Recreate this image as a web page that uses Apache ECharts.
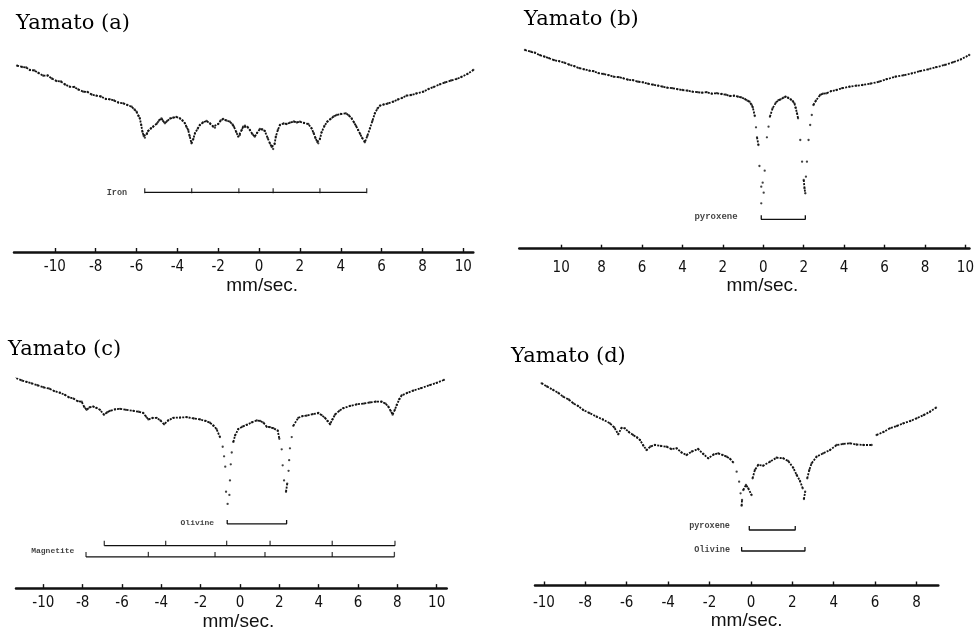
<!DOCTYPE html>
<html><head><meta charset="utf-8">
<script src="https://cdn.jsdelivr.net/npm/echarts@6/dist/echarts.min.js"></script>
<style>html,body{margin:0;padding:0;background:#fff}#c{width:977px;height:632px}</style>
</head><body><div id="c"></div>
<script>
// ---- tick labels (mm/sec) ----
const ticksFull = [-10,-8,-6,-4,-2,0,2,4,6,8,10];
const ticksD = [-10,-8,-6,-4,-2,0,2,4,6,8];

// ---- spectra: [velocity mm/s, relative transmission (arb.)] ----
const specA = [[-11.85,186.3],[-11.6,185.0],[-11.4,184.5],[-11.22,182.0],[-11.0,181.5],[-10.8,179.0],[-10.57,176.3],[-10.35,176.5],[-10.15,173.5],[-9.92,171.0],[-9.7,170.5],[-9.5,167.5],[-9.27,165.3],[-9.05,165.0],[-8.85,162.5],[-8.61,160.3],[-8.4,160.0],[-8.2,157.5],[-7.96,156.3],[-7.75,155.5],[-7.5,153.0],[-7.31,152.7],[-7.1,151.5],[-6.9,149.5],[-6.65,148.7],[-6.45,147.0],[-6.24,145.3],[-6.1,142.5],[-6.0,140.3],[-5.9,136.0],[-5.84,133.7],[-5.77,127.0],[-5.71,120.3],[-5.65,116.0],[-5.59,114.3],[-5.5,118.0],[-5.43,121.0],[-5.3,123.5],[-5.19,125.3],[-5.0,128.5],[-4.9,131.5],[-4.78,133.7],[-4.7,131.0],[-4.61,128.7],[-4.5,131.0],[-4.35,133.5],[-4.21,134.3],[-4.05,135.0],[-3.88,133.7],[-3.75,131.5],[-3.63,128.7],[-3.55,125.0],[-3.47,122.0],[-3.4,116.0],[-3.31,108.7],[-3.22,113.0],[-3.14,118.7],[-3.0,123.5],[-2.9,127.0],[-2.75,129.5],[-2.57,131.0],[-2.4,128.5],[-2.25,125.5],[-2.16,124.3],[-2.0,128.0],[-1.88,131.5],[-1.76,133.0],[-1.6,131.5],[-1.43,130.3],[-1.3,127.5],[-1.23,125.3],[-1.12,120.0],[-1.02,115.3],[-0.94,117.0],[-0.85,122.0],[-0.78,125.3],[-0.69,126.3],[-0.57,125.0],[-0.45,122.0],[-0.33,118.0],[-0.21,115.3],[-0.1,119.0],[0.04,123.0],[0.16,122.5],[0.28,121.0],[0.42,114.0],[0.53,108.7],[0.62,105.0],[0.69,103.0],[0.76,108.0],[0.82,115.3],[0.92,122.0],[1.02,127.0],[1.2,128.5],[1.35,128.0],[1.51,129.3],[1.7,130.5],[1.85,129.5],[2.0,130.3],[2.2,129.0],[2.41,128.0],[2.57,123.7],[2.67,119.0],[2.76,114.0],[2.85,110.0],[2.9,108.7],[2.98,113.0],[3.06,119.7],[3.2,126.0],[3.34,130.3],[3.5,133.0],[3.65,135.5],[3.8,137.0],[4.0,138.0],[4.25,138.7],[4.4,136.5],[4.53,133.7],[4.65,129.5],[4.75,126.0],[4.85,122.0],[4.95,118.0],[5.05,114.0],[5.18,109.7],[5.3,116.0],[5.43,123.7],[5.55,131.0],[5.67,138.7],[5.8,143.5],[5.92,146.3],[6.1,147.5],[6.3,148.5],[6.57,150.3],[6.8,152.5],[7.0,154.0],[7.22,156.3],[7.45,157.0],[7.7,158.5],[8.04,160.3],[8.3,163.0],[8.55,165.0],[8.85,167.7],[9.1,169.5],[9.4,171.5],[9.67,173.0],[9.9,175.0],[10.2,178.0],[10.49,182.0]];

const specB = [[-11.79,198.7],[-11.5,197.0],[-11.3,196.0],[-11.05,193.5],[-10.82,192.0],[-10.6,190.5],[-10.35,188.5],[-10.1,187.5],[-9.84,186.0],[-9.6,184.0],[-9.35,182.5],[-9.1,180.5],[-8.87,179.4],[-8.6,178.0],[-8.4,177.5],[-8.15,175.5],[-7.9,174.7],[-7.65,173.5],[-7.4,172.0],[-7.15,171.5],[-6.92,170.4],[-6.7,169.0],[-6.45,168.5],[-6.2,167.0],[-5.95,166.4],[-5.7,165.0],[-5.45,164.0],[-5.2,163.0],[-4.98,162.0],[-4.75,161.0],[-4.5,160.5],[-4.25,159.5],[-4.0,158.7],[-3.75,158.0],[-3.5,157.0],[-3.25,156.5],[-3.03,156.0],[-2.8,156.5],[-2.55,155.0],[-2.3,155.5],[-2.06,154.7],[-1.85,154.0],[-1.65,152.7],[-1.45,153.0],[-1.25,152.0],[-1.09,151.4],[-0.9,149.5],[-0.78,148.0],[-0.68,147.0],[-0.58,144.0],[-0.52,141.4],[-0.42,132.7],[-0.36,121.4],[-0.31,111.4],[-0.24,103.7],[-0.19,82.7],[-0.1,62.0],[-0.1,45.4],[-0.03,66.0],[0.02,56.0],[0.07,78.0],[0.18,111.4],[0.26,122.0],[0.33,132.0],[0.46,140.4],[0.62,146.0],[0.75,148.5],[0.86,149.4],[1.0,151.0],[1.1,152.0],[1.22,151.0],[1.35,149.4],[1.46,147.5],[1.54,145.4],[1.6,141.0],[1.67,135.4],[1.72,130.4],[1.83,108.7],[1.92,87.0],[2.0,68.7],[2.04,60.4],[2.08,55.4],[2.11,72.0],[2.16,87.0],[2.24,108.7],[2.32,123.7],[2.4,133.7],[2.48,143.7],[2.6,148.0],[2.81,153.7],[2.95,155.0],[3.13,155.4],[3.35,157.5],[3.62,158.7],[3.9,160.5],[4.27,162.0],[4.6,163.0],[4.91,163.7],[5.3,165.0],[5.73,167.0],[6.1,169.5],[6.54,172.0],[6.95,173.5],[7.35,175.4],[7.75,177.5],[8.16,179.4],[8.55,181.5],[8.97,183.7],[9.4,186.5],[9.78,189.4],[10.19,193.7]];

const specC = [[-11.69,219.4],[-11.4,218.0],[-11.1,215.5],[-10.85,214.0],[-10.6,212.5],[-10.3,210.5],[-10.0,208.4],[-9.7,207.0],[-9.45,204.5],[-9.15,202.7],[-8.9,200.5],[-8.7,198.0],[-8.47,196.7],[-8.25,194.0],[-8.05,193.4],[-7.92,188.0],[-7.8,185.0],[-7.65,187.5],[-7.46,188.4],[-7.3,187.0],[-7.12,185.0],[-6.92,180.0],[-6.75,182.5],[-6.61,184.0],[-6.35,185.5],[-6.1,186.0],[-5.8,185.0],[-5.42,184.0],[-5.15,183.0],[-4.92,181.7],[-4.78,178.0],[-4.66,175.0],[-4.45,176.5],[-4.24,176.7],[-4.05,174.0],[-3.86,170.0],[-3.65,174.0],[-3.39,176.7],[-3.05,177.0],[-2.71,177.4],[-2.35,176.0],[-2.03,175.0],[-1.75,173.5],[-1.53,171.7],[-1.35,168.5],[-1.19,165.0],[-1.02,156.7],[-0.88,146.7],[-0.81,136.7],[-0.75,126.0],[-0.71,100.0],[-0.63,87.4],[-0.54,96.7],[-0.51,111.7],[-0.47,128.4],[-0.42,140.7],[-0.34,151.7],[-0.25,158.4],[-0.09,165.0],[0.12,167.5],[0.34,169.4],[0.6,172.0],[0.85,174.0],[1.02,173.5],[1.19,171.7],[1.36,167.4],[1.52,167.0],[1.69,166.0],[1.92,163.4],[2.0,155.0],[2.12,144.0],[2.17,127.4],[2.24,111.7],[2.34,100.0],[2.4,108.4],[2.47,121.7],[2.5,132.7],[2.54,145.0],[2.63,156.7],[2.71,168.4],[2.96,176.7],[3.18,178.5],[3.39,179.0],[3.7,180.5],[3.98,181.7],[4.15,179.5],[4.32,176.7],[4.45,173.5],[4.58,170.0],[4.7,175.0],[4.83,180.0],[5.05,184.0],[5.25,186.7],[5.6,189.0],[5.93,190.7],[6.3,191.5],[6.61,192.7],[6.9,193.5],[7.2,193.4],[7.4,191.5],[7.54,188.4],[7.66,184.0],[7.76,180.0],[7.87,185.0],[7.97,190.0],[8.1,196.0],[8.22,200.0],[8.5,202.5],[8.81,205.0],[9.2,207.5],[9.66,210.7],[10.0,213.0],[10.37,216.0]];

const specD = [[-10.11,202.2],[-9.85,199.0],[-9.55,195.5],[-9.3,192.5],[-9.07,188.8],[-8.8,186.0],[-8.58,182.2],[-8.35,179.5],[-8.1,175.5],[-7.8,172.5],[-7.45,168.8],[-7.15,166.0],[-6.81,162.2],[-6.6,158.0],[-6.41,151.2],[-6.25,157.5],[-6.09,157.2],[-5.9,153.5],[-5.69,150.5],[-5.5,148.0],[-5.36,145.5],[-5.2,140.0],[-5.04,135.5],[-4.85,139.0],[-4.64,140.5],[-4.35,139.5],[-4.07,138.8],[-3.85,136.5],[-3.59,137.2],[-3.35,133.0],[-3.11,130.5],[-2.85,134.0],[-2.55,136.5],[-2.3,131.5],[-2.06,127.2],[-1.8,131.0],[-1.58,132.2],[-1.37,130.5],[-1.17,128.8],[-1.0,126.5],[-0.86,123.2],[-0.69,113.8],[-0.57,103.8],[-0.5,92.2],[-0.45,79.8],[-0.43,85.5],[-0.37,95.5],[-0.24,100.5],[-0.13,97.2],[0.03,90.5],[0.08,107.2],[0.19,115.5],[0.35,120.5],[0.59,119.8],[0.92,123.8],[1.24,127.8],[1.56,127.2],[1.8,124.5],[2.04,117.8],[2.21,110.5],[2.37,104.5],[2.5,97.2],[2.56,86.5],[2.62,93.8],[2.72,107.2],[2.82,115.5],[2.93,122.2],[3.17,128.8],[3.49,132.2],[3.82,135.5],[4.14,140.5],[4.45,141.5],[4.78,142.2],[5.1,141.0],[5.43,140.5],[5.83,140.5],[6.07,150.5],[6.4,153.5],[6.71,157.2],[7.05,159.5],[7.36,162.2],[7.7,164.5],[8.0,167.2],[8.35,170.5],[8.65,173.8],[8.94,177.8]];

// ---- stick diagrams (line positions in mm/s) ----
const ironLines = [-5.6,-3.3,-0.99,0.69,2.98,5.27];
const ironLevel = 59.7;
const pyroxB = [-0.1,2.08]; const pyroxBLevel = 29.4;
const olivC = [-0.65,2.37]; const olivCLevel = 66.7;
const magnetiteA = [-6.9,-3.78,-0.68,1.53,4.69,7.88]; const magALevel = 44;
const magnetiteB = [-7.83,-4.66,-1.27,1.27,4.69,7.85]; const magBLevel = 32.4;
const pyroxD = [-0.08,2.14]; const pyroxDLevel = 55.5;
const olivD = [-0.45,2.61]; const olivDLevel = 34.5;

// label anchors [velocity, level, text]
const labelsA = [[-6.96,59,'Iron']];
const labelsB = [[-2.34,32,'pyroxene']];
const labelsC = [[-2.17,67.7,'Olivine'],[-9.52,38.4,'Magnetite']];
const labelsD = [[-2.0,59.5,'pyroxene'],[-1.87,35.5,'Olivine']];

const titles = ['Yamato (a)','Yamato (b)','Yamato (c)','Yamato (d)'];

const INK = '#111';
const chart = echarts.init(document.getElementById('c'), null, {renderer:'canvas'});

const grids = [
  {left:14, right:503.7, top:40, bottom:380},
  {left:519.3, right:0, top:30, bottom:383.3},
  {left:16, right:530.3, top:360, bottom:35.3},
  {left:535, right:38.7, top:365, bottom:46.5}
];
const xr = [[-12.0,10.49],[-12.07,10.2],[-11.39,10.51],[-10.43,9.05]];
const ymax = [212,218.7,236.7,220.5];
const labelMargin = [8,12,8,10];
const nameGap = [22,26,18,24];
const namePad = [37,36,14,20];
const tickSets = [ticksFull,ticksFull,ticksFull,ticksD];

const xAxes = grids.map((g,i)=>({
  type:'value', gridIndex:i, min:xr[i][0], max:xr[i][1], position:'bottom',
  splitLine:{show:false},
  axisLine:{show:true, lineStyle:{color:INK, width:2.5}},
  axisTick:{show:true, inside:true, length:4, customValues:tickSets[i], lineStyle:{color:INK, width:1.4}},
  axisLabel:{show:true, customValues:tickSets[i], margin:labelMargin[i], fontSize:15, color:INK,
    fontFamily:'"Liberation Sans Narrow","DejaVu Sans Condensed","Liberation Sans",sans-serif',
    formatter: i===1 ? (v)=>String(Math.abs(v)) : (v)=>String(v)},
  name:'mm/sec.', nameLocation:'middle', nameGap:nameGap[i],
  nameTextStyle:{fontSize:19, color:INK, fontFamily:'"Liberation Sans",sans-serif', padding:[0,0,0,namePad[i]]}
}));
const yAxes = grids.map((g,i)=>({type:'value', gridIndex:i, min:0, max:ymax[i], show:false}));

const series = [];
function spectrum(data, gi){
  series.push({type:'scatter', xAxisIndex:gi, yAxisIndex:gi, data:data, symbolSize:2.3,
    itemStyle:{color:INK}, silent:true});
  // connect neighbouring points of the continuum with a dotted trace
  let seg = [data[0]];
  const flush = ()=>{ if(seg.length>1) series.push({type:'line', xAxisIndex:gi, yAxisIndex:gi, data:seg,
      showSymbol:false, symbol:'none', lineStyle:{color:INK, width:1.8, type:[2,1.2]}, silent:true}); };
  for(let k=1;k<data.length;k++){
    if(Math.abs(data[k][1]-data[k-1][1])>9){ flush(); seg=[data[k]]; }
    else seg.push(data[k]);
  }
  flush();
}
function stickLine(pos, level, gi, up){
  series.push({type:'line', xAxisIndex:gi, yAxisIndex:gi, data:[[pos[0],level],[pos[pos.length-1],level]],
    symbol:'none', lineStyle:{color:INK, width:1.3}, silent:true});
  series.push({type:'scatter', xAxisIndex:gi, yAxisIndex:gi, data:pos.map(p=>[p,level]),
    symbol:'rect', symbolSize:[1.3,5], symbolOffset:[0, up?-2.5:-1.5], itemStyle:{color:INK}, silent:true});
}
function bracket(pos, level, gi){
  series.push({type:'line', xAxisIndex:gi, yAxisIndex:gi,
    data:[[pos[0],level+4],[pos[0],level],[pos[1],level],[pos[1],level+4]],
    symbol:'none', lineStyle:{color:INK, width:1.3}, silent:true});
}
function labels(list, gi, size){
  series.push({type:'scatter', xAxisIndex:gi, yAxisIndex:gi, data:list.map(l=>({value:[l[0],l[1]], name:l[2]})),
    symbolSize:1, itemStyle:{color:'rgba(0,0,0,0)'}, silent:true,
    label:{show:true, position:'inside', formatter:(p)=>p.name, color:INK, fontSize:size,
      fontWeight:'bold', fontFamily:'"Liberation Mono","DejaVu Sans Mono",monospace'}});
}

spectrum(specA,0); stickLine(ironLines, ironLevel, 0, false); labels(labelsA,0,8.5);
spectrum(specB,1); bracket(pyroxB, pyroxBLevel, 1); labels(labelsB,1,9);
spectrum(specC,2); bracket(olivC, olivCLevel, 2);
stickLine(magnetiteA, magALevel, 2, true); stickLine(magnetiteB, magBLevel, 2, true); labels(labelsC,2,8);
spectrum(specD,3); bracket(pyroxD, pyroxDLevel, 3); bracket(olivD, olivDLevel, 3); labels(labelsD,3,8.5);

const titlePos = [[16,13],[524,9],[8,339],[511,346]];
chart.setOption({
  animation:false,
  backgroundColor:'#fff',
  title: titles.map((t,i)=>({text:t, left:titlePos[i][0], top:titlePos[i][1], padding:0,
    textStyle:{fontFamily:'"DejaVu Serif","Liberation Serif",serif', fontSize:21, fontWeight:'normal', color:'#000'}})),
  grid: grids,
  xAxis: xAxes,
  yAxis: yAxes,
  series: series
});
</script></body></html>
